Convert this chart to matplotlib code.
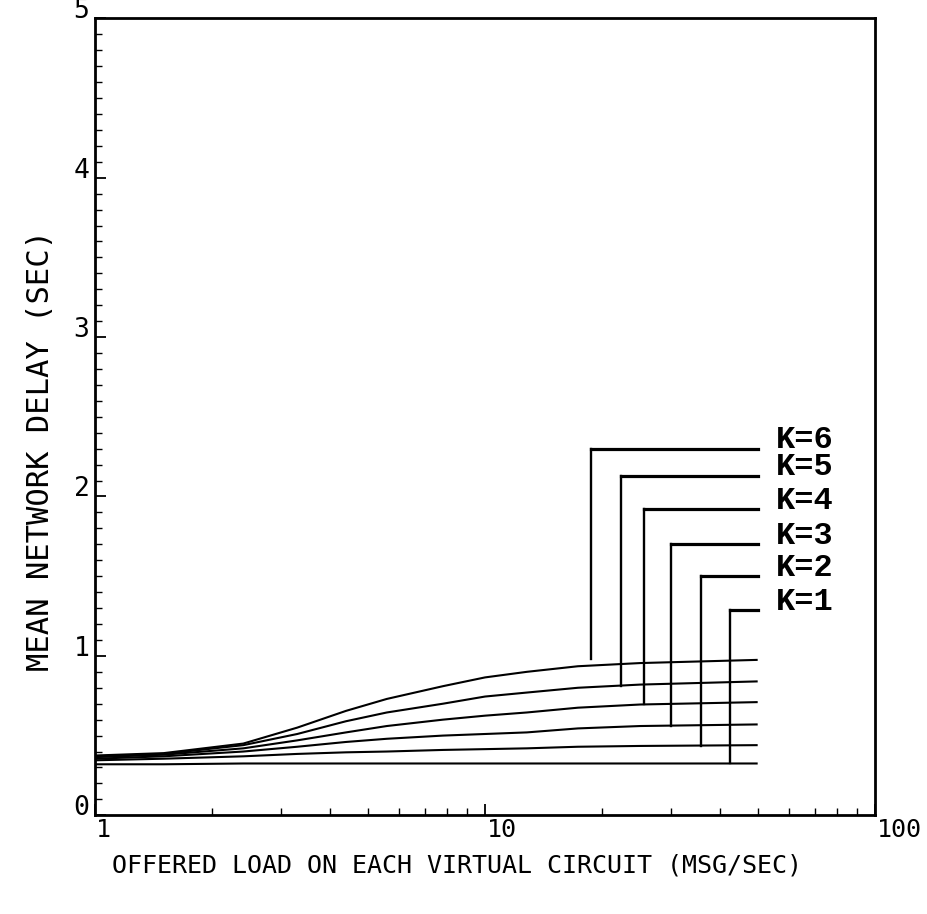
import matplotlib
matplotlib.use("Agg")
import matplotlib.pyplot as plt
import matplotlib.transforms as mtransforms
import numpy as np
from matplotlib.ticker import FixedLocator, LogLocator, MultipleLocator, NullFormatter

# offered load (msg/sec) at the points
load = [1, 1.5, 2.4, 3.3, 4.4, 5.6, 7.8, 10, 12.8, 17.3, 25, 50]

# mean network delay (sec), one list per window size K
delay_k1 = [0.32, 0.32, 0.325, 0.325, 0.325, 0.325, 0.325, 0.325, 0.325, 0.325, 0.325, 0.325]
delay_k2 = [0.345, 0.355, 0.37, 0.385, 0.395, 0.40, 0.41, 0.415, 0.42, 0.43, 0.435, 0.44]
delay_k3 = [0.355, 0.37, 0.40, 0.43, 0.46, 0.48, 0.50, 0.51, 0.52, 0.545, 0.56, 0.57]
delay_k4 = [0.365, 0.38, 0.42, 0.47, 0.52, 0.56, 0.60, 0.625, 0.645, 0.675, 0.695, 0.71]
delay_k5 = [0.37, 0.385, 0.44, 0.51, 0.59, 0.645, 0.70, 0.745, 0.77, 0.80, 0.82, 0.84]
delay_k6 = [0.375, 0.39, 0.45, 0.55, 0.655, 0.73, 0.81, 0.865, 0.90, 0.935, 0.955, 0.975]

windows = [1, 2, 3, 4, 5, 6]
delays = [delay_k1, delay_k2, delay_k3, delay_k4, delay_k5, delay_k6]

# leader lines tying each "K=n" tag to its curve
leader_x = [42.4, 35.7, 29.9, 25.6, 22.3, 18.7]
leader_y = [1.285, 1.50, 1.70, 1.92, 2.13, 2.30]
leader_gap = [0, 0, 0, 0, 0, 0.04]  # the K=6 leader stops a bit above its curve

x_ticks = [1, 10, 100]
x_tick_labels = ["1", "10", "100"]
y_ticks = [0, 1, 2, 3, 4, 5]
y_tick_labels = ["0", "1", "2", "3", "4", "5"]

PLOTTER = ["DejaVu Sans Mono"]
TYPEWRITER = ["Liberation Mono", "DejaVu Sans Mono"]

fig = plt.figure(figsize=(9.27, 9.14), dpi=100)
ax = fig.add_axes([0.1025, 0.108, 0.8415, 0.872])

for d in delays:
    ax.plot(load, d, color="black", linewidth=1.5, solid_capstyle="butt")

log_load = np.log10(load)
for k, d, lx, ly, gap in zip(windows, delays, leader_x, leader_y, leader_gap):
    bottom = np.interp(np.log10(lx), log_load, d) + gap
    ax.plot([lx, lx], [bottom, ly], color="black", linewidth=1.7)
    ax.plot([lx, load[-1]], [ly, ly], color="black", linewidth=2.3,
            solid_capstyle="projecting")
    ax.annotate(f"K={k}", (load[-1], ly), xytext=(13, 6), textcoords="offset points",
                ha="left", va="center", fontsize=23, fontweight="bold",
                family=TYPEWRITER)

ax.set_xscale("log")
ax.set_xlim(1, 100)
ax.set_ylim(0, 5)

ax.xaxis.set_major_locator(FixedLocator(x_ticks))
ax.xaxis.set_minor_locator(LogLocator(base=10, subs=range(2, 10)))
ax.yaxis.set_major_locator(FixedLocator(y_ticks))
ax.yaxis.set_minor_locator(MultipleLocator(0.1))
ax.xaxis.set_major_formatter(NullFormatter())
ax.xaxis.set_minor_formatter(NullFormatter())
ax.yaxis.set_major_formatter(NullFormatter())
ax.tick_params(which="both", direction="in", top=False, right=False, color="black")
ax.tick_params(which="major", length=8, width=1.3)
ax.tick_params(which="minor", length=5, width=1.0)
for s in ax.spines.values():
    s.set_linewidth(2.0)

xtrans = mtransforms.blended_transform_factory(ax.transData, ax.transAxes)
for t, lab in zip(x_ticks, x_tick_labels):
    ax.annotate(lab, (t, 0), xycoords=xtrans, xytext=(1, -2), textcoords="offset points",
                ha="left", va="top", fontsize=18, family=PLOTTER)

ytrans = mtransforms.blended_transform_factory(ax.transAxes, ax.transData)
for t, lab in zip(y_ticks, y_tick_labels):
    ax.annotate(lab, (0, t), xycoords=ytrans, xytext=(-4, 0), textcoords="offset points",
                ha="right", va="baseline", fontsize=19, family=PLOTTER)

ax.text(0.464, -0.063, "OFFERED LOAD ON EACH VIRTUAL CIRCUIT (MSG/SEC)",
        transform=ax.transAxes, ha="center", va="center", fontsize=18, family=PLOTTER)
ax.text(-0.0705, 0.458, "MEAN NETWORK DELAY (SEC)", transform=ax.transAxes,
        ha="center", va="center", rotation=90, fontsize=22, family=PLOTTER)

fig.savefig("out.png", dpi=100)
